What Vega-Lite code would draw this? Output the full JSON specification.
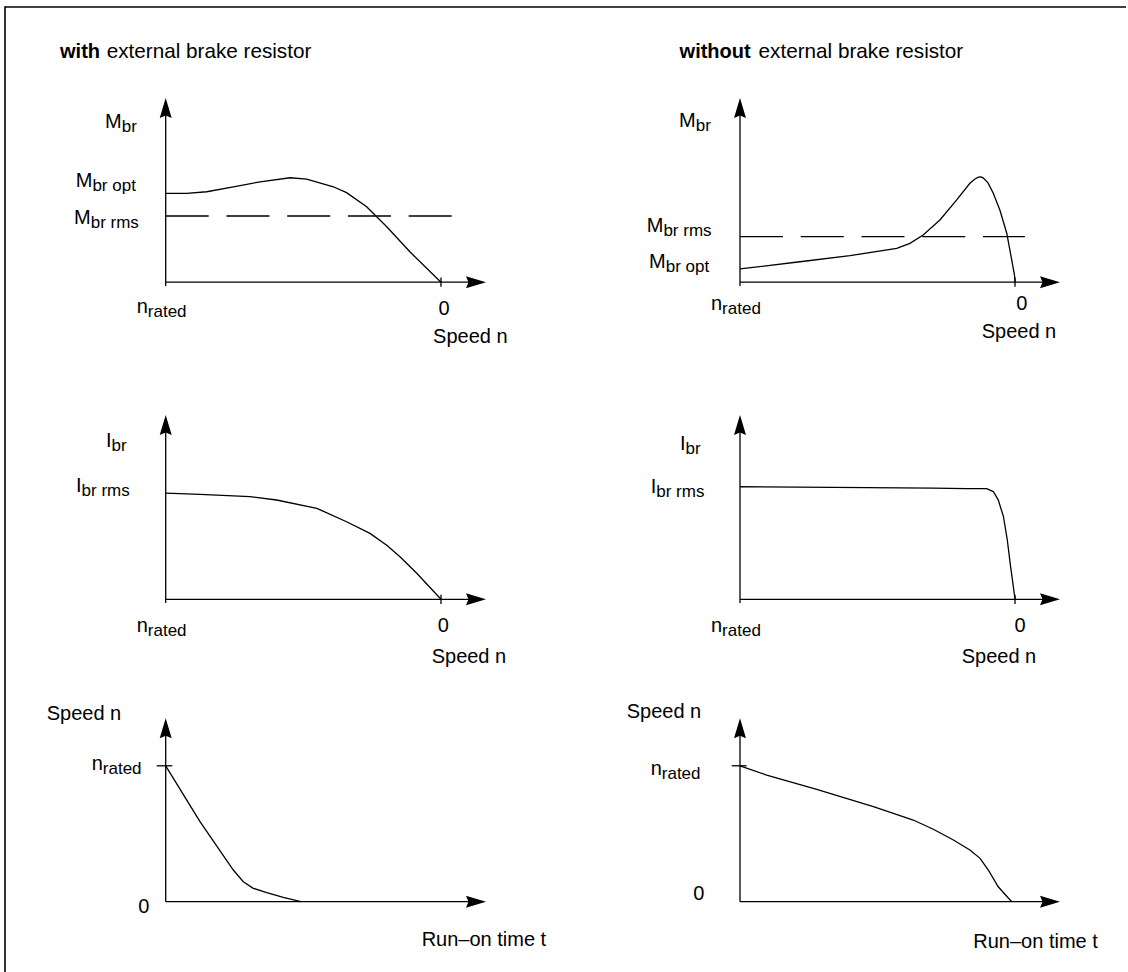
{
  "$schema": "https://vega.github.io/schema/vega-lite/v6.json",
  "background": "white",
  "padding": 0,
  "bounds": "flush",
  "align": "each",
  "spacing": 0,
  "columns": 2,
  "resolve": {"scale": {"x": "independent", "y": "independent"}},
  "config": {"view": {"stroke": null}, "font": "Liberation Sans"},
  "datasets": {
    "frame": [
      {"p": "TL", "x": 1.5837, "y": 1.494, "x2": -0.4323, "y2": 1.494},
      {"p": "TL", "x": 1.5837, "y": -0.4224, "x2": 1.5837, "y2": 1.4985},
      {"p": "TR", "x": 1.6545, "y": 1.494, "x2": -0.4036, "y2": 1.494},
      {"p": "ML", "x": 1.5837, "y": -0.4381, "x2": 1.5837, "y2": 1.2991},
      {"p": "BL", "x": -0.5837, "y": -0.5173, "x2": -0.5837, "y2": 1.6313}
    ],
    "segs": [
      {"p": "TL", "x": 1, "y": 0, "x2": -0.14, "y2": 0},
      {"p": "TL", "x": 1, "y": -0.02, "x2": 1, "y2": 0.95},
      {"p": "TL", "x": 0, "y": -0.025, "x2": 0, "y2": 0.025},
      {"p": "TR", "x": 1, "y": 0, "x2": -0.14, "y2": 0},
      {"p": "TR", "x": 1, "y": -0.02, "x2": 1, "y2": 0.95},
      {"p": "TR", "x": 0, "y": -0.025, "x2": 0, "y2": 0.025},
      {"p": "ML", "x": 1, "y": 0, "x2": -0.14, "y2": 0},
      {"p": "ML", "x": 1, "y": -0.02, "x2": 1, "y2": 0.95},
      {"p": "ML", "x": 0, "y": -0.025, "x2": 0, "y2": 0.025},
      {"p": "MR", "x": 1, "y": 0, "x2": -0.14, "y2": 0},
      {"p": "MR", "x": 1, "y": -0.02, "x2": 1, "y2": 0.95},
      {"p": "MR", "x": 0, "y": -0.025, "x2": 0, "y2": 0.025},
      {"p": "BL", "x": 0, "y": 0, "x2": 1.14, "y2": 0},
      {"p": "BL", "x": 0, "y": 0, "x2": 0, "y2": 1.28},
      {"p": "BL", "x": -0.0327, "y": 1, "x2": 0.024, "y2": 1},
      {"p": "BR", "x": 0, "y": 0, "x2": 1.14, "y2": 0},
      {"p": "BR", "x": 0, "y": 0, "x2": 0, "y2": 1.28},
      {"p": "BR", "x": -0.03, "y": 1, "x2": 0.024, "y2": 1}
    ],
    "arrows": [
      {"p": "TL", "dir": "right", "x": -0.1271, "y": 0},
      {"p": "TL", "dir": "up", "x": 1, "y": 0.9457},
      {"p": "TR", "dir": "right", "x": -0.1273, "y": 0},
      {"p": "TR", "dir": "up", "x": 1, "y": 0.9457},
      {"p": "ML", "dir": "right", "x": -0.1271, "y": 0},
      {"p": "ML", "dir": "up", "x": 1, "y": 0.9457},
      {"p": "MR", "dir": "right", "x": -0.1273, "y": 0},
      {"p": "MR", "dir": "up", "x": 1, "y": 0.9457},
      {"p": "BL", "dir": "right", "x": 1.1271, "y": 0},
      {"p": "BL", "dir": "up", "x": 0, "y": 1.2759},
      {"p": "BR", "dir": "right", "x": 1.1273, "y": 0},
      {"p": "BR", "dir": "up", "x": 0, "y": 1.2759}
    ],
    "curves": [
      {"p": "TL", "s": "c", "x": 1, "y": 0.482},
      {"p": "TL", "s": "c", "x": 0.924, "y": 0.482},
      {"p": "TL", "s": "c", "x": 0.851, "y": 0.491},
      {"p": "TL", "s": "c", "x": 0.754, "y": 0.518},
      {"p": "TL", "s": "c", "x": 0.657, "y": 0.545},
      {"p": "TL", "s": "c", "x": 0.548, "y": 0.567},
      {"p": "TL", "s": "c", "x": 0.488, "y": 0.56},
      {"p": "TL", "s": "c", "x": 0.391, "y": 0.518},
      {"p": "TL", "s": "c", "x": 0.343, "y": 0.486},
      {"p": "TL", "s": "c", "x": 0.27, "y": 0.41},
      {"p": "TL", "s": "c", "x": 0.197, "y": 0.301},
      {"p": "TL", "s": "c", "x": 0.113, "y": 0.165},
      {"p": "TL", "s": "c", "x": 0, "y": 0},
      {"p": "TL", "s": "r", "x": 1, "y": 0.3594},
      {"p": "TL", "s": "r", "x": -0.039, "y": 0.3594},
      {"p": "TR", "s": "c", "x": 1, "y": 0.072},
      {"p": "TR", "s": "c", "x": 0.782, "y": 0.111},
      {"p": "TR", "s": "c", "x": 0.6, "y": 0.144},
      {"p": "TR", "s": "c", "x": 0.43, "y": 0.184},
      {"p": "TR", "s": "c", "x": 0.382, "y": 0.211},
      {"p": "TR", "s": "c", "x": 0.334, "y": 0.256},
      {"p": "TR", "s": "c", "x": 0.273, "y": 0.338},
      {"p": "TR", "s": "c", "x": 0.212, "y": 0.447},
      {"p": "TR", "s": "c", "x": 0.164, "y": 0.537},
      {"p": "TR", "s": "c", "x": 0.1455, "y": 0.56},
      {"p": "TR", "s": "c", "x": 0.133, "y": 0.57},
      {"p": "TR", "s": "c", "x": 0.1236, "y": 0.571},
      {"p": "TR", "s": "c", "x": 0.115, "y": 0.565},
      {"p": "TR", "s": "c", "x": 0.098, "y": 0.539},
      {"p": "TR", "s": "c", "x": 0.079, "y": 0.483},
      {"p": "TR", "s": "c", "x": 0.055, "y": 0.392},
      {"p": "TR", "s": "c", "x": 0.03, "y": 0.266},
      {"p": "TR", "s": "c", "x": 0.012, "y": 0.121},
      {"p": "TR", "s": "c", "x": 0.002, "y": 0.04},
      {"p": "TR", "s": "c", "x": 0, "y": 0},
      {"p": "TR", "s": "r", "x": 1, "y": 0.247},
      {"p": "TR", "s": "r", "x": -0.036, "y": 0.247},
      {"p": "ML", "s": "c", "x": 1, "y": 0.576},
      {"p": "ML", "s": "c", "x": 0.875, "y": 0.57},
      {"p": "ML", "s": "c", "x": 0.694, "y": 0.557},
      {"p": "ML", "s": "c", "x": 0.597, "y": 0.539},
      {"p": "ML", "s": "c", "x": 0.451, "y": 0.494},
      {"p": "ML", "s": "c", "x": 0.343, "y": 0.421},
      {"p": "ML", "s": "c", "x": 0.258, "y": 0.358},
      {"p": "ML", "s": "c", "x": 0.197, "y": 0.294},
      {"p": "ML", "s": "c", "x": 0.149, "y": 0.231},
      {"p": "ML", "s": "c", "x": 0.088, "y": 0.141},
      {"p": "ML", "s": "c", "x": 0, "y": 0},
      {"p": "MR", "s": "c", "x": 1, "y": 0.611},
      {"p": "MR", "s": "c", "x": 0.661, "y": 0.608},
      {"p": "MR", "s": "c", "x": 0.297, "y": 0.604},
      {"p": "MR", "s": "c", "x": 0.176, "y": 0.601},
      {"p": "MR", "s": "c", "x": 0.103, "y": 0.601},
      {"p": "MR", "s": "c", "x": 0.079, "y": 0.585},
      {"p": "MR", "s": "c", "x": 0.061, "y": 0.54},
      {"p": "MR", "s": "c", "x": 0.042, "y": 0.449},
      {"p": "MR", "s": "c", "x": 0.028, "y": 0.322},
      {"p": "MR", "s": "c", "x": 0.016, "y": 0.177},
      {"p": "MR", "s": "c", "x": 0.006, "y": 0.068},
      {"p": "MR", "s": "c", "x": 0, "y": 0},
      {"p": "BL", "s": "c", "x": 0, "y": 1},
      {"p": "BL", "s": "c", "x": 0.1246, "y": 0.589},
      {"p": "BL", "s": "c", "x": 0.2456, "y": 0.233},
      {"p": "BL", "s": "c", "x": 0.2819, "y": 0.147},
      {"p": "BL", "s": "c", "x": 0.3182, "y": 0.0986},
      {"p": "BL", "s": "c", "x": 0.3669, "y": 0.0662},
      {"p": "BL", "s": "c", "x": 0.4272, "y": 0.0324},
      {"p": "BL", "s": "c", "x": 0.4915, "y": 0},
      {"p": "BR", "s": "c", "x": 0, "y": 1},
      {"p": "BR", "s": "c", "x": 0.097, "y": 0.932},
      {"p": "BR", "s": "c", "x": 0.279, "y": 0.827},
      {"p": "BR", "s": "c", "x": 0.485, "y": 0.699},
      {"p": "BR", "s": "c", "x": 0.63, "y": 0.601},
      {"p": "BR", "s": "c", "x": 0.703, "y": 0.533},
      {"p": "BR", "s": "c", "x": 0.776, "y": 0.454},
      {"p": "BR", "s": "c", "x": 0.836, "y": 0.38},
      {"p": "BR", "s": "c", "x": 0.873, "y": 0.319},
      {"p": "BR", "s": "c", "x": 0.903, "y": 0.233},
      {"p": "BR", "s": "c", "x": 0.939, "y": 0.11},
      {"p": "BR", "s": "c", "x": 0.988, "y": 0}
    ],
    "labels": [
      {"p": "TL", "main": "M", "sub": "br", "x": 1.1598, "y": 0.8355},
      {"p": "TL", "main": "M", "sub": "br opt", "x": 1.2663, "y": 0.5168},
      {"p": "TL", "main": "M", "sub": "br rms", "x": 1.2724, "y": 0.316},
      {"p": "TL", "main": "n", "sub": "rated", "x": 1.065, "y": -0.1688},
      {"p": "TL", "main": "0", "sub": "", "x": -0.0312, "y": -0.1808},
      {"p": "TL", "main": "Speed n", "sub": "", "x": -0.2419, "y": -0.3317},
      {"p": "TR", "main": "M", "sub": "br", "x": 1.1611, "y": 0.8442},
      {"p": "TR", "main": "M", "sub": "br rms", "x": 1.2785, "y": 0.2742},
      {"p": "TR", "main": "M", "sub": "br opt", "x": 1.2702, "y": 0.0771},
      {"p": "TR", "main": "n", "sub": "rated", "x": 1.0651, "y": -0.1509},
      {"p": "TR", "main": "0", "sub": "", "x": -0.0447, "y": -0.1509},
      {"p": "TR", "main": "Speed n", "sub": "", "x": -0.1498, "y": -0.3029},
      {"p": "ML", "main": "I", "sub": "br", "x": 1.1965, "y": 0.8252},
      {"p": "ML", "main": "I", "sub": "br rms", "x": 1.3055, "y": 0.5841},
      {"p": "ML", "main": "n", "sub": "rated", "x": 1.065, "y": -0.1759},
      {"p": "ML", "main": "0", "sub": "", "x": -0.029, "y": -0.1759},
      {"p": "ML", "main": "Speed n", "sub": "", "x": -0.2368, "y": -0.3474},
      {"p": "MR", "main": "I", "sub": "br", "x": 1.1978, "y": 0.8105},
      {"p": "MR", "main": "I", "sub": "br rms", "x": 1.3044, "y": 0.5755},
      {"p": "MR", "main": "n", "sub": "rated", "x": 1.0651, "y": -0.1759},
      {"p": "MR", "main": "0", "sub": "", "x": -0.0385, "y": -0.1759},
      {"p": "MR", "main": "Speed n", "sub": "", "x": -0.0771, "y": -0.3474},
      {"p": "BL", "main": "Speed n", "sub": "", "x": -0.1616, "y": 1.337},
      {"p": "BL", "main": "n", "sub": "rated", "x": -0.2285, "y": 0.969},
      {"p": "BL", "main": "0", "sub": "", "x": -0.0592, "y": -0.0854},
      {"p": "BL", "main": "Run–on time t", "sub": "", "x": 1.3821, "y": -0.326},
      {"p": "BR", "main": "Speed n", "sub": "", "x": -0.1411, "y": 1.3495},
      {"p": "BR", "main": "n", "sub": "rated", "x": -0.2844, "y": 0.9323},
      {"p": "BR", "main": "0", "sub": "", "x": -0.1295, "y": 0.0125},
      {"p": "BR", "main": "Run–on time t", "sub": "", "x": 1.3011, "y": -0.343}
    ],
    "titles": [
      {"p": "TL", "part": "bold", "text": "with", "x": 1.3839, "y": 1.2155},
      {"p": "TL", "part": "regular", "text": "external brake resistor", "x": 1.2145, "y": 1.2155},
      {"p": "TR", "part": "bold", "text": "without", "x": 1.2196, "y": 1.2155},
      {"p": "TR", "part": "regular", "text": "external brake resistor", "x": 0.9324, "y": 1.2155}
    ]
  },
  "concat": [
    {
      "width": 560, "height": 360,
      "encoding": {
        "x": {"field": "x", "type": "quantitative", "scale": {"domain": [-0.4323, 1.6019], "reverse": true, "nice": false, "zero": false}, "axis": null},
        "y": {"field": "y", "type": "quantitative", "scale": {"domain": [-0.4224, 1.532], "nice": false, "zero": false}, "axis": null}
      },
      "layer": [
        {"data": {"name": "frame"}, "transform": [{"filter": "datum.p === 'TL'"}], "mark": {"type": "rule", "color": "#000", "strokeWidth": 1.6}, "encoding": {"x2": {"field": "x2"}, "y2": {"field": "y2"}}},
        {"data": {"name": "segs"}, "transform": [{"filter": "datum.p === 'TL'"}], "mark": {"type": "rule", "color": "#000", "strokeWidth": 1.3}, "encoding": {"x2": {"field": "x2"}, "y2": {"field": "y2"}}},
        {"data": {"name": "curves"}, "transform": [{"filter": "datum.p === 'TL' && datum.s === 'c'"}], "mark": {"type": "line", "color": "#000", "strokeWidth": 1.3}, "encoding": {}},
        {"data": {"name": "curves"}, "transform": [{"filter": "datum.p === 'TL' && datum.s === 'r'"}], "mark": {"type": "line", "color": "#000", "strokeWidth": 1.3, "strokeDash": [43, 17.75]}, "encoding": {}},
        {"data": {"name": "arrows"}, "transform": [{"filter": "datum.p === 'TL'"}], "mark": {"type": "point", "filled": true, "color": "#000", "opacity": 1, "size": 400, "strokeWidth": 0}, "encoding": {"shape": {"field": "dir", "type": "nominal", "scale": {"domain": ["right", "up"], "range": ["M1,0L-1,-0.6L-0.75,0L-1,0.6Z", "M0,-1L0.6,1L0,0.75L-0.6,1Z"]}, "legend": null}}},
        {"data": {"name": "labels"}, "transform": [{"filter": "datum.p === 'TL'"}], "mark": {"type": "text", "align": "right", "baseline": "alphabetic", "fontSize": 20, "color": "#000"}, "encoding": {"text": {"field": "main"}}},
        {"data": {"name": "labels"}, "transform": [{"filter": "datum.p === 'TL' && datum.sub !== ''"}], "mark": {"type": "text", "align": "left", "baseline": "alphabetic", "fontSize": 17, "dy": 4, "color": "#000"}, "encoding": {"text": {"field": "sub"}}},
        {"data": {"name": "titles"}, "transform": [{"filter": "datum.p === 'TL' && datum.part === 'bold'"}], "mark": {"type": "text", "align": "left", "baseline": "alphabetic", "fontSize": 20, "fontWeight": "bold", "color": "#000"}, "encoding": {"text": {"field": "text"}}},
        {"data": {"name": "titles"}, "transform": [{"filter": "datum.p === 'TL' && datum.part === 'regular'"}], "mark": {"type": "text", "align": "left", "baseline": "alphabetic", "fontSize": 20.7, "color": "#000"}, "encoding": {"text": {"field": "text"}}}
      ]
    },
    {
      "width": 568, "height": 360,
      "encoding": {
        "x": {"field": "x", "type": "quantitative", "scale": {"domain": [-0.4109, 1.6545], "reverse": true, "nice": false, "zero": false}, "axis": null},
        "y": {"field": "y", "type": "quantitative", "scale": {"domain": [-0.4224, 1.532], "nice": false, "zero": false}, "axis": null}
      },
      "layer": [
        {"data": {"name": "frame"}, "transform": [{"filter": "datum.p === 'TR'"}], "mark": {"type": "rule", "color": "#000", "strokeWidth": 1.6}, "encoding": {"x2": {"field": "x2"}, "y2": {"field": "y2"}}},
        {"data": {"name": "segs"}, "transform": [{"filter": "datum.p === 'TR'"}], "mark": {"type": "rule", "color": "#000", "strokeWidth": 1.3}, "encoding": {"x2": {"field": "x2"}, "y2": {"field": "y2"}}},
        {"data": {"name": "curves"}, "transform": [{"filter": "datum.p === 'TR' && datum.s === 'c'"}], "mark": {"type": "line", "color": "#000", "strokeWidth": 1.3}, "encoding": {}},
        {"data": {"name": "curves"}, "transform": [{"filter": "datum.p === 'TR' && datum.s === 'r'"}], "mark": {"type": "line", "color": "#000", "strokeWidth": 1.3, "strokeDash": [43, 17.75]}, "encoding": {}},
        {"data": {"name": "arrows"}, "transform": [{"filter": "datum.p === 'TR'"}], "mark": {"type": "point", "filled": true, "color": "#000", "opacity": 1, "size": 400, "strokeWidth": 0}, "encoding": {"shape": {"field": "dir", "type": "nominal", "scale": {"domain": ["right", "up"], "range": ["M1,0L-1,-0.6L-0.75,0L-1,0.6Z", "M0,-1L0.6,1L0,0.75L-0.6,1Z"]}, "legend": null}}},
        {"data": {"name": "labels"}, "transform": [{"filter": "datum.p === 'TR'"}], "mark": {"type": "text", "align": "right", "baseline": "alphabetic", "fontSize": 20, "color": "#000"}, "encoding": {"text": {"field": "main"}}},
        {"data": {"name": "labels"}, "transform": [{"filter": "datum.p === 'TR' && datum.sub !== ''"}], "mark": {"type": "text", "align": "left", "baseline": "alphabetic", "fontSize": 17, "dy": 4, "color": "#000"}, "encoding": {"text": {"field": "sub"}}},
        {"data": {"name": "titles"}, "transform": [{"filter": "datum.p === 'TR' && datum.part === 'bold'"}], "mark": {"type": "text", "align": "left", "baseline": "alphabetic", "fontSize": 20, "fontWeight": "bold", "color": "#000"}, "encoding": {"text": {"field": "text"}}},
        {"data": {"name": "titles"}, "transform": [{"filter": "datum.p === 'TR' && datum.part === 'regular'"}], "mark": {"type": "text", "align": "left", "baseline": "alphabetic", "fontSize": 20.7, "color": "#000"}, "encoding": {"text": {"field": "text"}}}
      ]
    },
    {
      "width": 560, "height": 320,
      "encoding": {
        "x": {"field": "x", "type": "quantitative", "scale": {"domain": [-0.4323, 1.6019], "reverse": true, "nice": false, "zero": false}, "axis": null},
        "y": {"field": "y", "type": "quantitative", "scale": {"domain": [-0.4381, 1.2991], "nice": false, "zero": false}, "axis": null}
      },
      "layer": [
        {"data": {"name": "frame"}, "transform": [{"filter": "datum.p === 'ML'"}], "mark": {"type": "rule", "color": "#000", "strokeWidth": 1.6}, "encoding": {"x2": {"field": "x2"}, "y2": {"field": "y2"}}},
        {"data": {"name": "segs"}, "transform": [{"filter": "datum.p === 'ML'"}], "mark": {"type": "rule", "color": "#000", "strokeWidth": 1.3}, "encoding": {"x2": {"field": "x2"}, "y2": {"field": "y2"}}},
        {"data": {"name": "curves"}, "transform": [{"filter": "datum.p === 'ML' && datum.s === 'c'"}], "mark": {"type": "line", "color": "#000", "strokeWidth": 1.3}, "encoding": {}},
        {"data": {"name": "arrows"}, "transform": [{"filter": "datum.p === 'ML'"}], "mark": {"type": "point", "filled": true, "color": "#000", "opacity": 1, "size": 400, "strokeWidth": 0}, "encoding": {"shape": {"field": "dir", "type": "nominal", "scale": {"domain": ["right", "up"], "range": ["M1,0L-1,-0.6L-0.75,0L-1,0.6Z", "M0,-1L0.6,1L0,0.75L-0.6,1Z"]}, "legend": null}}},
        {"data": {"name": "labels"}, "transform": [{"filter": "datum.p === 'ML'"}], "mark": {"type": "text", "align": "right", "baseline": "alphabetic", "fontSize": 20, "color": "#000"}, "encoding": {"text": {"field": "main"}}},
        {"data": {"name": "labels"}, "transform": [{"filter": "datum.p === 'ML' && datum.sub !== ''"}], "mark": {"type": "text", "align": "left", "baseline": "alphabetic", "fontSize": 17, "dy": 4, "color": "#000"}, "encoding": {"text": {"field": "sub"}}}
      ]
    },
    {
      "width": 568, "height": 320,
      "encoding": {
        "x": {"field": "x", "type": "quantitative", "scale": {"domain": [-0.4109, 1.6545], "reverse": true, "nice": false, "zero": false}, "axis": null},
        "y": {"field": "y", "type": "quantitative", "scale": {"domain": [-0.4381, 1.2991], "nice": false, "zero": false}, "axis": null}
      },
      "layer": [
        {"data": {"name": "segs"}, "transform": [{"filter": "datum.p === 'MR'"}], "mark": {"type": "rule", "color": "#000", "strokeWidth": 1.3}, "encoding": {"x2": {"field": "x2"}, "y2": {"field": "y2"}}},
        {"data": {"name": "curves"}, "transform": [{"filter": "datum.p === 'MR' && datum.s === 'c'"}], "mark": {"type": "line", "color": "#000", "strokeWidth": 1.3}, "encoding": {}},
        {"data": {"name": "arrows"}, "transform": [{"filter": "datum.p === 'MR'"}], "mark": {"type": "point", "filled": true, "color": "#000", "opacity": 1, "size": 400, "strokeWidth": 0}, "encoding": {"shape": {"field": "dir", "type": "nominal", "scale": {"domain": ["right", "up"], "range": ["M1,0L-1,-0.6L-0.75,0L-1,0.6Z", "M0,-1L0.6,1L0,0.75L-0.6,1Z"]}, "legend": null}}},
        {"data": {"name": "labels"}, "transform": [{"filter": "datum.p === 'MR'"}], "mark": {"type": "text", "align": "right", "baseline": "alphabetic", "fontSize": 20, "color": "#000"}, "encoding": {"text": {"field": "main"}}},
        {"data": {"name": "labels"}, "transform": [{"filter": "datum.p === 'MR' && datum.sub !== ''"}], "mark": {"type": "text", "align": "left", "baseline": "alphabetic", "fontSize": 17, "dy": 4, "color": "#000"}, "encoding": {"text": {"field": "sub"}}}
      ]
    },
    {
      "width": 560, "height": 292,
      "encoding": {
        "x": {"field": "x", "type": "quantitative", "scale": {"domain": [-0.6019, 1.4323], "nice": false, "zero": false}, "axis": null},
        "y": {"field": "y", "type": "quantitative", "scale": {"domain": [-0.5173, 1.6313], "nice": false, "zero": false}, "axis": null}
      },
      "layer": [
        {"data": {"name": "frame"}, "transform": [{"filter": "datum.p === 'BL'"}], "mark": {"type": "rule", "color": "#000", "strokeWidth": 1.6}, "encoding": {"x2": {"field": "x2"}, "y2": {"field": "y2"}}},
        {"data": {"name": "segs"}, "transform": [{"filter": "datum.p === 'BL'"}], "mark": {"type": "rule", "color": "#000", "strokeWidth": 1.3}, "encoding": {"x2": {"field": "x2"}, "y2": {"field": "y2"}}},
        {"data": {"name": "curves"}, "transform": [{"filter": "datum.p === 'BL' && datum.s === 'c'"}], "mark": {"type": "line", "color": "#000", "strokeWidth": 1.3}, "encoding": {}},
        {"data": {"name": "arrows"}, "transform": [{"filter": "datum.p === 'BL'"}], "mark": {"type": "point", "filled": true, "color": "#000", "opacity": 1, "size": 400, "strokeWidth": 0}, "encoding": {"shape": {"field": "dir", "type": "nominal", "scale": {"domain": ["right", "up"], "range": ["M1,0L-1,-0.6L-0.75,0L-1,0.6Z", "M0,-1L0.6,1L0,0.75L-0.6,1Z"]}, "legend": null}}},
        {"data": {"name": "labels"}, "transform": [{"filter": "datum.p === 'BL'"}], "mark": {"type": "text", "align": "right", "baseline": "alphabetic", "fontSize": 20, "color": "#000"}, "encoding": {"text": {"field": "main"}}},
        {"data": {"name": "labels"}, "transform": [{"filter": "datum.p === 'BL' && datum.sub !== ''"}], "mark": {"type": "text", "align": "left", "baseline": "alphabetic", "fontSize": 17, "dy": 4, "color": "#000"}, "encoding": {"text": {"field": "sub"}}}
      ]
    },
    {
      "width": 568, "height": 292,
      "encoding": {
        "x": {"field": "x", "type": "quantitative", "scale": {"domain": [-0.6545, 1.4109], "nice": false, "zero": false}, "axis": null},
        "y": {"field": "y", "type": "quantitative", "scale": {"domain": [-0.5173, 1.6313], "nice": false, "zero": false}, "axis": null}
      },
      "layer": [
        {"data": {"name": "segs"}, "transform": [{"filter": "datum.p === 'BR'"}], "mark": {"type": "rule", "color": "#000", "strokeWidth": 1.3}, "encoding": {"x2": {"field": "x2"}, "y2": {"field": "y2"}}},
        {"data": {"name": "curves"}, "transform": [{"filter": "datum.p === 'BR' && datum.s === 'c'"}], "mark": {"type": "line", "color": "#000", "strokeWidth": 1.3}, "encoding": {}},
        {"data": {"name": "arrows"}, "transform": [{"filter": "datum.p === 'BR'"}], "mark": {"type": "point", "filled": true, "color": "#000", "opacity": 1, "size": 400, "strokeWidth": 0}, "encoding": {"shape": {"field": "dir", "type": "nominal", "scale": {"domain": ["right", "up"], "range": ["M1,0L-1,-0.6L-0.75,0L-1,0.6Z", "M0,-1L0.6,1L0,0.75L-0.6,1Z"]}, "legend": null}}},
        {"data": {"name": "labels"}, "transform": [{"filter": "datum.p === 'BR'"}], "mark": {"type": "text", "align": "right", "baseline": "alphabetic", "fontSize": 20, "color": "#000"}, "encoding": {"text": {"field": "main"}}},
        {"data": {"name": "labels"}, "transform": [{"filter": "datum.p === 'BR' && datum.sub !== ''"}], "mark": {"type": "text", "align": "left", "baseline": "alphabetic", "fontSize": 17, "dy": 4, "color": "#000"}, "encoding": {"text": {"field": "sub"}}}
      ]
    }
  ]
}
